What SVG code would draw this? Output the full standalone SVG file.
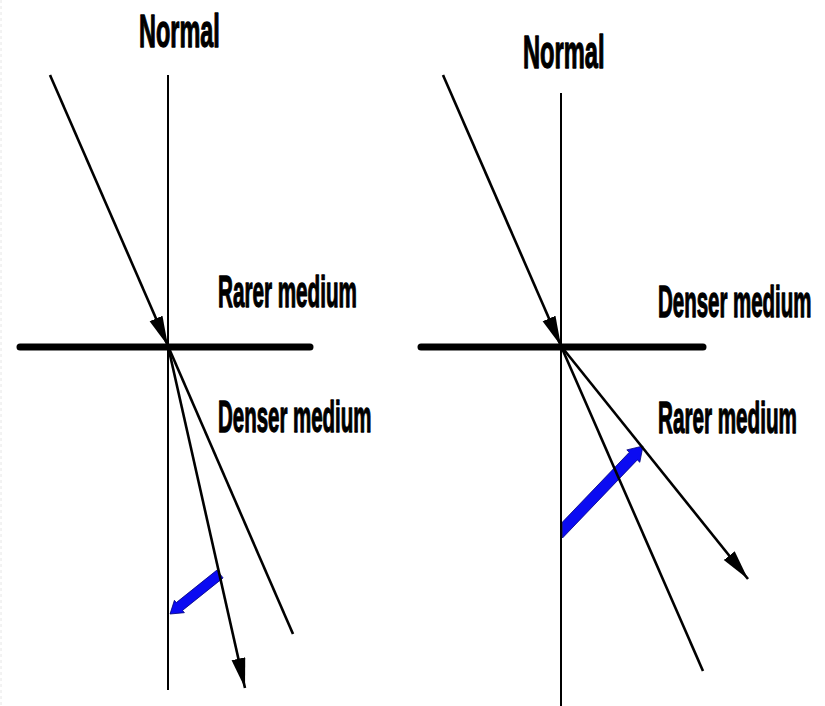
<svg xmlns="http://www.w3.org/2000/svg" width="825" height="706" viewBox="0 0 825 706">
  <defs>
    <marker id="ah" markerUnits="userSpaceOnUse" markerWidth="32" markerHeight="15" refX="30" refY="7" orient="auto">
      <path d="M0,0 L30,7 L0,14 z" fill="#000"/>
    </marker>
  </defs>
  <style>
    .lbl { font-family: "Liberation Sans", Arial, sans-serif; font-weight: bold; font-size: 44px; fill: #000; stroke: #000; stroke-width: 1.3; stroke-linejoin: round; }
    .ttl { font-size: 46px; }
    .normal { stroke: #000; stroke-width: 2; fill: none; }
    .iface { stroke: #000; stroke-width: 7; stroke-linecap: round; fill: none; }
    .ray { stroke: #000; stroke-width: 2.6; fill: none; }
    .arrow { marker-end: url(#ah); }
    .blue { fill: #0b0bf2; stroke: #00007a; stroke-width: 0.8; stroke-linejoin: round; }
  </style>
  <rect x="0" y="0" width="825" height="706" fill="#fff"/>
  <line x1="1" y1="0" x2="1" y2="706" stroke="#e6e6e6" stroke-width="1" stroke-dasharray="3,3"/>

  <g id="left-diagram">
    <g id="left-normal">
      <line class="normal" x1="168" y1="75" x2="168" y2="690"/>
      <text class="lbl ttl" transform="translate(139,47) scale(0.51,1)">Normal</text>
    </g>
    <g id="left-interface">
      <line class="iface" x1="20" y1="347" x2="310" y2="347"/>
    </g>
    <g id="left-labels">
      <text class="lbl" transform="translate(218,307) scale(0.47,1)">Rarer medium</text>
      <text class="lbl" transform="translate(218,432) scale(0.465,1)">Denser medium</text>
    </g>
    <g id="left-blue-arrow">
      <polygon class="blue" points="216.9,570.1 176.3,602.6 174.4,600.3 170,614 184.4,612.7 182.5,610.4 223.1,577.9"/>
    </g>
  </g>

  <g id="right-diagram">
    <g id="right-normal">
      <line class="normal" x1="561" y1="93" x2="561" y2="706"/>
      <text class="lbl ttl" transform="translate(523,68) scale(0.515,1)">Normal</text>
    </g>
    <g id="right-interface">
      <line class="iface" x1="421" y1="347" x2="703" y2="347"/>
    </g>
    <g id="right-labels">
      <text class="lbl" transform="translate(658,317) scale(0.465,1)">Denser medium</text>
      <text class="lbl" transform="translate(658,433) scale(0.47,1)">Rarer medium</text>
    </g>
    <g id="right-blue-arrow">
      <polygon class="blue" points="562.5,522 629.3,452.3 626.8,449.9 643,446 639.8,462.3 637.3,459.9 562.5,538"/>
    </g>
  </g>

  <g id="connectors">
    <line class="ray arrow" x1="50" y1="75" x2="168" y2="346"/>
    <line class="ray" x1="168" y1="346" x2="293" y2="634"/>
    <line class="ray arrow" x1="168" y1="346" x2="245" y2="688"/>
    <line class="ray arrow" x1="443" y1="75" x2="561" y2="346"/>
    <line class="ray" x1="561" y1="346" x2="703" y2="671"/>
    <line class="ray arrow" x1="561" y1="346" x2="748" y2="579"/>
  </g>
</svg>
